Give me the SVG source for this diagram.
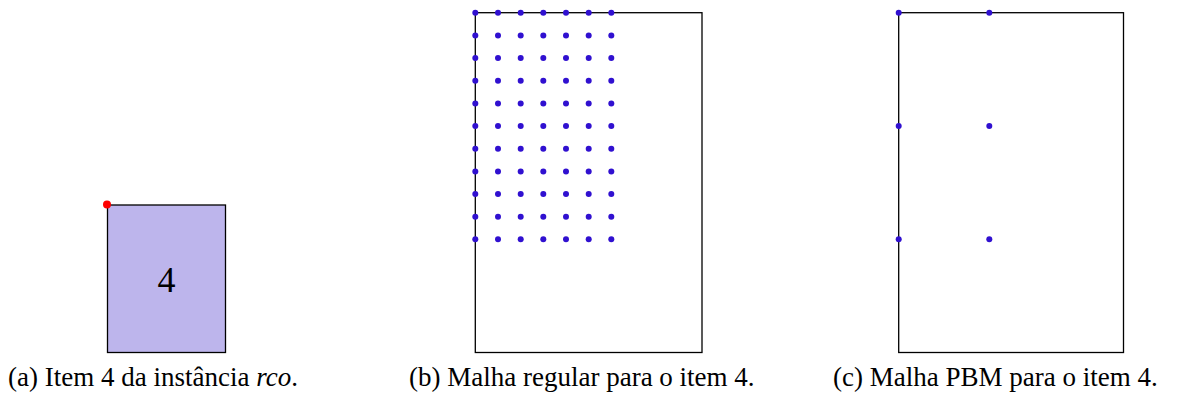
<svg xmlns="http://www.w3.org/2000/svg" width="1191" height="399" viewBox="0 0 1191 399">
<style>
.box{fill:none;stroke:#000;stroke-width:1.3}
.pt{fill:#3010d0}
</style>
<defs><circle id="d" r="3" class="pt"/></defs>
<rect width="1191" height="399" fill="#fff"/>
<g id="item4">
<rect x="107.5" y="205" width="118" height="147.5" fill="#bdb5ec" stroke="#000" stroke-width="1.3"/>
<text x="166.5" y="292" text-anchor="middle" font-family="Liberation Serif, Times New Roman, serif" font-size="36">4</text>
<circle cx="107" cy="204.5" r="4" fill="#f00"/>
</g>
<g id="regular">
<rect class="box" x="475.3" y="12.7" width="226.7" height="339.8"/>
<g id="grid">
<use href="#d" x="475.3" y="12.7"/><use href="#d" x="498" y="12.7"/><use href="#d" x="520.7" y="12.7"/><use href="#d" x="543.3" y="12.7"/><use href="#d" x="566" y="12.7"/><use href="#d" x="588.7" y="12.7"/><use href="#d" x="611.3" y="12.7"/>
<use href="#d" x="475.3" y="35.4"/><use href="#d" x="498" y="35.4"/><use href="#d" x="520.7" y="35.4"/><use href="#d" x="543.3" y="35.4"/><use href="#d" x="566" y="35.4"/><use href="#d" x="588.7" y="35.4"/><use href="#d" x="611.3" y="35.4"/>
<use href="#d" x="475.3" y="58"/><use href="#d" x="498" y="58"/><use href="#d" x="520.7" y="58"/><use href="#d" x="543.3" y="58"/><use href="#d" x="566" y="58"/><use href="#d" x="588.7" y="58"/><use href="#d" x="611.3" y="58"/>
<use href="#d" x="475.3" y="80.7"/><use href="#d" x="498" y="80.7"/><use href="#d" x="520.7" y="80.7"/><use href="#d" x="543.3" y="80.7"/><use href="#d" x="566" y="80.7"/><use href="#d" x="588.7" y="80.7"/><use href="#d" x="611.3" y="80.7"/>
<use href="#d" x="475.3" y="103.4"/><use href="#d" x="498" y="103.4"/><use href="#d" x="520.7" y="103.4"/><use href="#d" x="543.3" y="103.4"/><use href="#d" x="566" y="103.4"/><use href="#d" x="588.7" y="103.4"/><use href="#d" x="611.3" y="103.4"/>
<use href="#d" x="475.3" y="126"/><use href="#d" x="498" y="126"/><use href="#d" x="520.7" y="126"/><use href="#d" x="543.3" y="126"/><use href="#d" x="566" y="126"/><use href="#d" x="588.7" y="126"/><use href="#d" x="611.3" y="126"/>
<use href="#d" x="475.3" y="148.7"/><use href="#d" x="498" y="148.7"/><use href="#d" x="520.7" y="148.7"/><use href="#d" x="543.3" y="148.7"/><use href="#d" x="566" y="148.7"/><use href="#d" x="588.7" y="148.7"/><use href="#d" x="611.3" y="148.7"/>
<use href="#d" x="475.3" y="171.4"/><use href="#d" x="498" y="171.4"/><use href="#d" x="520.7" y="171.4"/><use href="#d" x="543.3" y="171.4"/><use href="#d" x="566" y="171.4"/><use href="#d" x="588.7" y="171.4"/><use href="#d" x="611.3" y="171.4"/>
<use href="#d" x="475.3" y="194"/><use href="#d" x="498" y="194"/><use href="#d" x="520.7" y="194"/><use href="#d" x="543.3" y="194"/><use href="#d" x="566" y="194"/><use href="#d" x="588.7" y="194"/><use href="#d" x="611.3" y="194"/>
<use href="#d" x="475.3" y="216.7"/><use href="#d" x="498" y="216.7"/><use href="#d" x="520.7" y="216.7"/><use href="#d" x="543.3" y="216.7"/><use href="#d" x="566" y="216.7"/><use href="#d" x="588.7" y="216.7"/><use href="#d" x="611.3" y="216.7"/>
<use href="#d" x="475.3" y="239.3"/><use href="#d" x="498" y="239.3"/><use href="#d" x="520.7" y="239.3"/><use href="#d" x="543.3" y="239.3"/><use href="#d" x="566" y="239.3"/><use href="#d" x="588.7" y="239.3"/><use href="#d" x="611.3" y="239.3"/>
</g>
</g>
<g id="pbm">
<rect class="box" x="898.7" y="12.7" width="224.8" height="339.8"/>
<use href="#d" x="898.7" y="12.7"/><use href="#d" x="989.3" y="12.7"/>
<use href="#d" x="898.7" y="126"/><use href="#d" x="989.3" y="126"/>
<use href="#d" x="898.7" y="239.3"/><use href="#d" x="989.3" y="239.3"/>
</g>
<g id="captions" font-family="Liberation Serif, Times New Roman, serif" font-size="27" fill="#000">
<text x="8" y="386">(a) Item 4 da instância <tspan font-style="italic">rco</tspan>.</text>
<text x="409" y="386">(b) Malha regular para o item 4.</text>
<text x="833" y="386">(c) Malha PBM para o item 4.</text>
</g>
</svg>
